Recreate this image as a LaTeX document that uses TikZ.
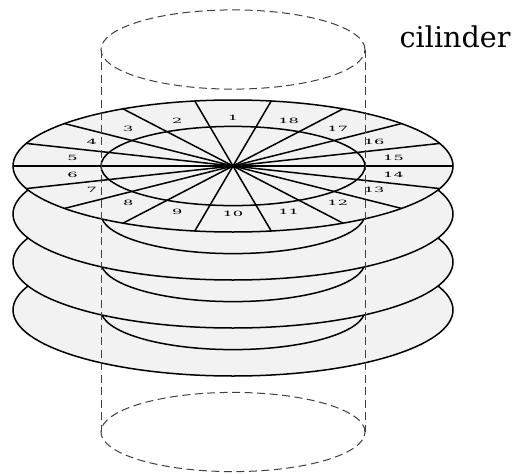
\documentclass[tikz,border=0pt]{standalone}
\usepackage{fontspec}
\usetikzlibrary{calc}
\setmainfont{DejaVu Serif}
\tikzset{
  disc/.style={draw=black,fill=black!5,line width=1.5pt},
  spoke/.style={draw=black,line width=1.5pt},
  cyl/.style={draw=black!75,line width=1pt,dash pattern=on 8pt off 4.5pt},
  seclabel/.style={font=\fontsize{12}{12}\selectfont,inner sep=0pt,xscale=1.35,yscale=.6,transform shape},
}
\begin{document}
\begin{tikzpicture}[x=1pt,y=-1pt]
\useasboundingbox (0,0) rectangle (517,474);
\coordinate (c0) at (233,166);
\coordinate (c1) at (233,214);
\coordinate (c2) at (233,262);
\coordinate (c3) at (233,310);
\coordinate (top) at (233,49.5);
\coordinate (bot) at (233,432);
\coordinate (tl) at (101,49.5);
\coordinate (tr) at (365,49.5);
\coordinate (bl) at (101,432);
\coordinate (br) at (365,432);
\foreach \c in {c3,c2,c1}{
  \path[disc] (\c) ellipse [x radius=220pt,y radius=66pt];
  \draw[spoke] (\c) ellipse [x radius=132pt,y radius=39.6pt];
}
\path[disc] (c0) ellipse [x radius=220pt,y radius=66pt];
\draw[spoke] (c0) ellipse [x radius=132pt,y radius=39.6pt];
\foreach \a in {0,20,...,340}{
  \draw[spoke] (c0) -- ($(c0)+({220*cos(\a)},{-66*sin(\a)})$);
}
\foreach \n [count=\i from 0] in {1,2,3,4,5,6,7,8,9,10,11,12,13,14,15,16,17,18}{
  \pgfmathsetmacro{\ang}{90+20*\i}
  \node[seclabel] (s\n) at ($(c0)+({163*cos(\ang)},{-48.3*sin(\ang)})$) {\n};
}
\draw[cyl] (top) ellipse [x radius=132pt,y radius=39.6pt];
\draw[cyl] (bot) ellipse [x radius=132pt,y radius=39.6pt];
\draw[cyl] (tl) -- (bl);
\draw[cyl] (tr) -- (br);
\node[anchor=base west,inner sep=0pt,font=\fontsize{28.6}{28.6}\selectfont] (lab) at (399.5,47.7) {cilinder};
\end{tikzpicture}
\end{document}
